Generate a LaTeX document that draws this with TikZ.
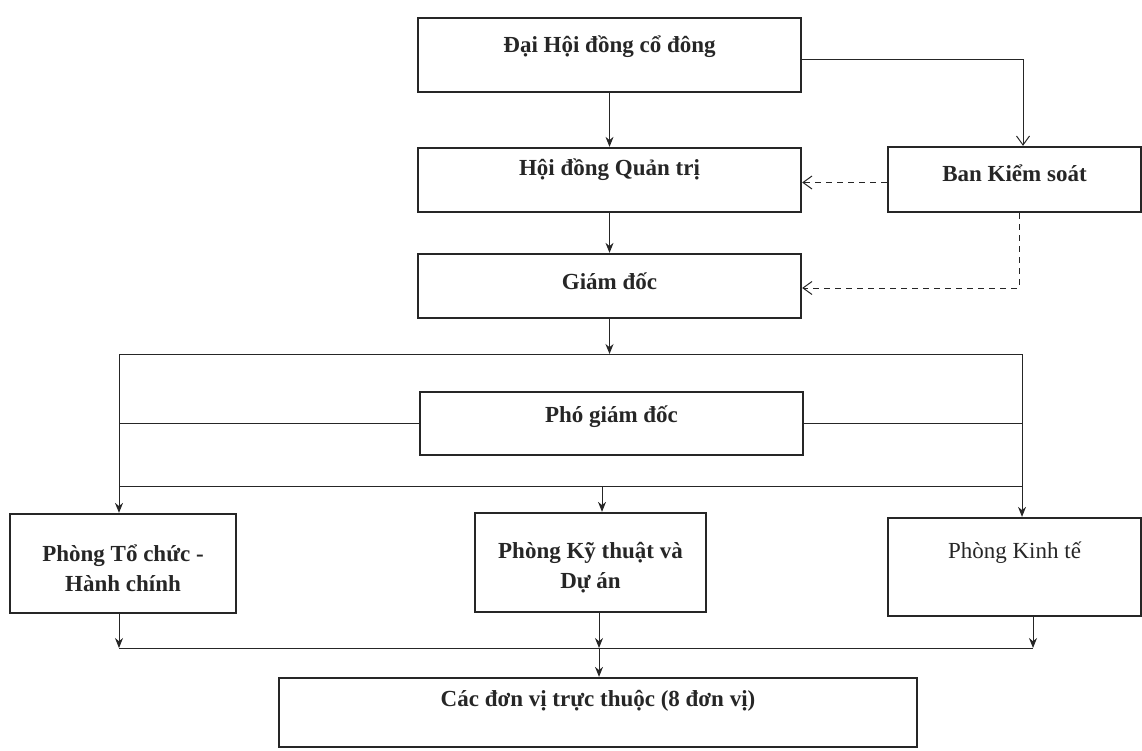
\documentclass[tikz,border=0pt]{standalone}
\usepackage{fontspec}
\setmainfont{Liberation Serif}
\usetikzlibrary{arrows.meta}
\begin{document}
\begin{tikzpicture}[x=1pt,y=-1pt,
  box/.style={draw=black!85, line width=2.3pt, inner sep=0pt},
  lbl/.style={font=\fontsize{23}{30}\selectfont\bfseries, text=black!85, align=center, inner sep=0pt},
  lblr/.style={font=\fontsize{23}{30}\selectfont, text=black!85, align=center, inner sep=0pt},
  conn/.style={draw=black!85, line width=1pt, -{Stealth[length=10pt,width=8pt]}},
  openarr/.style={draw=black!85, line width=1pt, -{Straight Barb[length=9pt,width=13pt]}},
  dsh/.style={draw=black!85, line width=1pt, dash pattern=on 6pt off 5pt, -{Straight Barb[length=9pt,width=13pt]}},
  bus/.style={draw=black!85, line width=1pt}]
\useasboundingbox (0,0) rectangle (1142,751);
% boxes
\node[box, minimum width=383pt, minimum height=74pt] (dhcd) at (609.5,55) {};
\node[box, minimum width=383pt, minimum height=64pt] (hdqt) at (609.5,180) {};
\node[box, minimum width=253pt, minimum height=65pt] (bks) at (1014.5,179.5) {};
\node[box, minimum width=383pt, minimum height=64pt] (gd) at (609.5,286) {};
\node[box, minimum width=383pt, minimum height=63pt] (pgd) at (611.5,423.5) {};
\node[box, minimum width=226pt, minimum height=99pt] (ptc) at (123,563.5) {};
\node[box, minimum width=231pt, minimum height=99pt] (pkt) at (590.5,562.5) {};
\node[box, minimum width=253pt, minimum height=98pt] (pkte) at (1014.5,567) {};
\node[box, minimum width=638pt, minimum height=69pt] (cdv) at (598,712.5) {};
% texts
\node[lbl] (tdhcd) at (609.5,47) {Đại Hội đồng cổ đông};
\node[lbl] (thdqt) at (609.5,170) {Hội đồng Quản trị};
\node[lbl] (tbks) at (1014.5,173) {Ban Kiểm soát};
\node[lbl] (tgd) at (609.5,281) {Giám đốc};
\node[lbl] (tpgd) at (611.5,417) {Phó giám đốc};
\node[lbl] (tptc) at (123,568) {Phòng Tổ chức -\\Hành chính};
\node[lbl] (tpkt) at (590.5,568) {Phòng Kỹ thuật và\\Dự án};
\node[lblr] (tpkte) at (1014.5,553) {Phòng Kinh tế};
\node[lbl] (tcdv) at (598,701) {Các đơn vị trực thuộc (8 đơn vị)};
% coordinates of buses
\coordinate (b1l) at (119,354);
\coordinate (b1r) at (1022,354);
\coordinate (b2l) at (119,486);
\coordinate (b2r) at (1022,486);
\coordinate (b2m) at (602,486);
\coordinate (b3l) at (119,648);
\coordinate (b3r) at (1033,648);
\coordinate (b3m) at (599,648);
% connectors
\draw[conn] (dhcd.south) -- (hdqt.north);
\draw[conn] (hdqt.south) -- (gd.north);
\draw[openarr] ([yshift=-5pt]dhcd.east) -| ([xshift=8.5pt]bks.north);
\draw[dsh] ([yshift=-3pt]bks.west) -- ([yshift=-3pt]bks.west -| hdqt.east);
\draw[dsh] ([xshift=4.5pt]bks.south) |- ([yshift=-2pt]gd.east);
\draw[bus] (b1l) -- (b1r);
\draw[conn] (gd.south) -- (gd.south |- b1l);
\draw[conn] (b1l) -- (b1l |- ptc.north);
\draw[conn] (b1r) -- (b1r |- pkte.north);
\draw[bus] (b1l |- pgd.west) -- (pgd.west);
\draw[bus] (pgd.east) -- (b1r |- pgd.east);
\draw[bus] (b2l) -- (b2r);
\draw[conn] (b2m) -- (b2m |- pkt.north);
\draw[bus] (b3l) -- (b3r);
\draw[conn] (b3l |- ptc.south) -- (b3l);
\draw[conn] (b3m |- pkt.south) -- (b3m);
\draw[conn] (b3r |- pkte.south) -- (b3r);
\draw[conn] (b3m) -- (b3m |- cdv.north);
\end{tikzpicture}
\end{document}
